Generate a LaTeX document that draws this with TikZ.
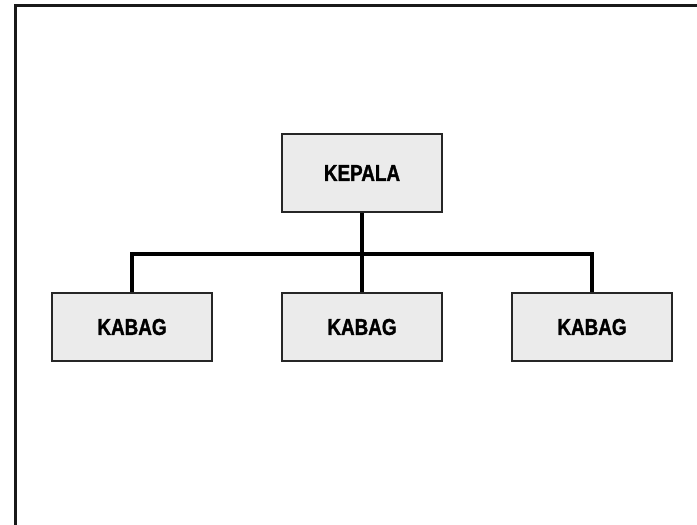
\documentclass[tikz,border=0pt]{standalone}
\usepackage{fontspec}
\newfontfamily\boxfont[FakeStretch=0.82,FakeBold=1.3]{Liberation Sans Bold}
\begin{document}
\begin{tikzpicture}[x=1pt,y=-1pt,
  orgbox/.style={draw=black!85, line width=1.8pt, fill=black!8, minimum width=160pt, minimum height=78pt, inner sep=0pt, font=\boxfont\fontsize{23}{27}\selectfont},
  link/.style={line width=3.6pt, draw=black}]
\useasboundingbox (0,0) rectangle (697,525);
\begin{scope}
\clip (0,0) rectangle (697,525);
\draw[line width=3pt, draw=black!90] (15,540) -- (15,5) -- (710,5);
\end{scope}
\node[orgbox] (kepala) at (362,173) {KEPALA};
\node[orgbox, minimum height=68pt] (k1) at (132,327) {KABAG};
\node[orgbox, minimum height=68pt] (k2) at (362,327) {KABAG};
\node[orgbox, minimum height=68pt] (k3) at (592,327) {KABAG};
\coordinate (j) at (362,254);
\draw[link] (kepala.south) -- (k2.north);
\draw[link] (k1.north) -- (k1.north |- j) -- (k3.north |- j) -- (k3.north);
\end{tikzpicture}
\end{document}
